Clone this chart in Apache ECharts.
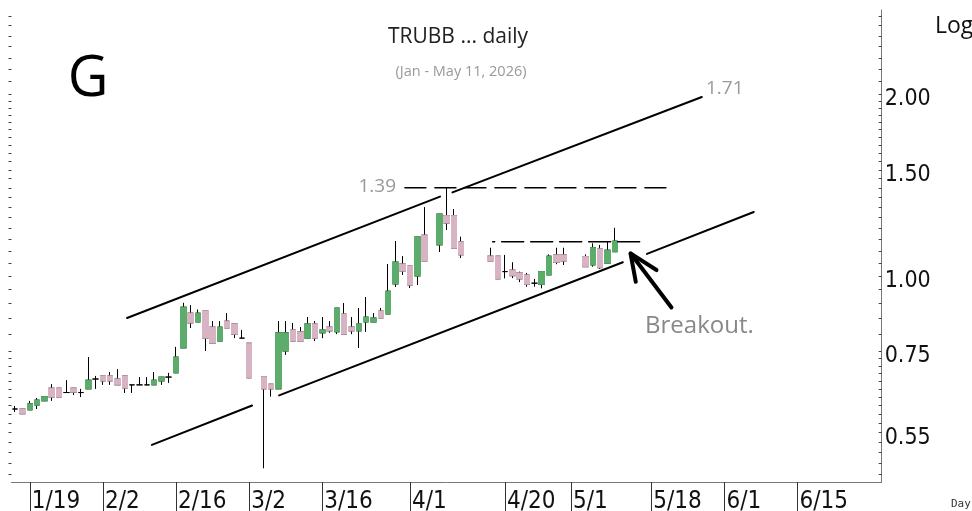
<!DOCTYPE html>
<html>
<head>
<meta charset="utf-8">
<title>TRUBB daily</title>
<script src="https://cdn.jsdelivr.net/npm/echarts@6/dist/echarts.min.js"></script>
<style>
    html, body { margin: 0; padding: 0; background: #fff; }
    #trubbChart { width: 972px; height: 511px; }
</style>
</head>
<body>
<div id="trubbChart"></div>
<script>
    // weekday categories, Jan 15 .. Jun 30 2026
    const dates = [];
    for (let d = new Date(2026, 0, 15); d <= new Date(2026, 5, 30); d.setDate(d.getDate() + 1)) {
        if (d.getDay() !== 0 && d.getDay() !== 6) dates.push((d.getMonth() + 1) + '/' + d.getDate());
    }
    const labelDates = ['1/19', '2/2', '2/16', '3/2', '3/16', '4/1', '4/20', '5/1', '5/18', '6/1', '6/15'];

    // daily prices, one entry per weekday from 1/15 (null = no trade)
    const opens = [0.602, 0.602, 0.600, 0.611, 0.621, 0.652, 0.652, 0.641, 0.652, 0.641,
        0.650, 0.675, 0.683, 0.683, 0.675, 0.683, 0.660, 0.660, 0.660, 0.660,
        0.670, 0.680, 0.691, 0.760, 0.868, 0.839, 0.875, 0.823, 0.780, 0.842,
        0.833, 0.789, 0.774, null, 0.681, 0.662, 0.650, 0.751, 0.814, 0.808,
        0.789, 0.833, 0.805, 0.823, 0.808, 0.865, 0.823, 0.811, 0.839, 0.839,
        0.875, 0.865, 0.970, 1.047, 1.039, 1.000, 1.169, null, 1.126, 1.259,
        1.259, 1.139, null, null, null, 1.079, 1.079, 1.017, 1.023, 1.012,
        1.004, 0.973, 0.969, 1.004, 1.084, 1.084, null, null, 1.077, 1.043,
        1.109, 1.050, 1.097];
    const closes = [0.602, 0.591, 0.614, 0.623, 0.631, 0.630, 0.630, 0.641, 0.642, 0.641,
        0.672, 0.675, 0.670, 0.670, 0.660, 0.652, 0.660, 0.660, 0.660, 0.672,
        0.680, 0.680, 0.734, 0.888, 0.836, 0.868, 0.789, 0.774, 0.823, 0.820,
        0.801, 0.789, 0.678, null, 0.650, 0.650, 0.805, 0.805, 0.780, 0.780,
        0.833, 0.789, 0.814, 0.811, 0.885, 0.801, 0.811, 0.833, 0.855, 0.852,
        0.852, 0.944, 1.055, 1.019, 0.966, 1.161, 1.059, null, 1.267, 1.224,
        1.112, 1.084, null, null, null, 1.059, 0.989, 1.017, 1.001, 0.989,
        0.969, 0.973, 1.017, 1.079, 1.054, 1.059, null, null, 1.036, 1.114,
        1.032, 1.104, 1.143];
    const lows = [0.595, 0.591, 0.600, 0.602, 0.621, 0.621, 0.630, 0.641, 0.635, 0.630,
        0.650, 0.650, 0.660, 0.660, 0.660, 0.640, 0.640, 0.660, 0.660, 0.660,
        0.660, 0.665, 0.691, 0.760, 0.820, 0.839, 0.751, 0.774, 0.780, 0.820,
        0.789, 0.789, 0.678, null, 0.480, 0.631, 0.650, 0.740, 0.780, 0.780,
        0.789, 0.780, 0.789, 0.805, 0.801, 0.801, 0.801, 0.760, 0.808, 0.839,
        0.852, 0.865, 0.959, 1.004, 0.955, 0.966, 1.059, null, 1.096, 1.192,
        1.112, 1.071, null, null, null, 1.059, 0.989, 0.991, 0.992, 0.977,
        0.960, 0.960, 0.954, 1.004, 1.046, 1.043, null, null, 1.036, 1.036,
        1.027, 1.050, 1.097];
    const highs = [0.609, 0.602, 0.621, 0.628, 0.631, 0.662, 0.652, 0.672, 0.652, 0.650,
        0.734, 0.683, 0.683, 0.693, 0.701, 0.683, 0.660, 0.680, 0.680, 0.693,
        0.680, 0.691, 0.763, 0.903, 0.895, 0.880, 0.875, 0.842, 0.842, 0.868,
        0.833, 0.814, 0.774, null, 0.681, 0.662, 0.842, 0.842, 0.836, 0.823,
        0.855, 0.842, 0.855, 0.842, 0.885, 0.902, 0.855, 0.885, 0.923, 0.868,
        0.885, 1.047, 1.143, 1.079, 1.039, 1.161, 1.301, null, 1.267, 1.400,
        1.291, 1.162, null, null, null, 1.114, 1.079, 1.084, 1.054, 1.017,
        1.012, 0.989, 1.017, 1.086, 1.114, 1.114, null, null, 1.086, 1.133,
        1.126, 1.143, 1.202];

    // price scale ticks and labels
    const yTicks = [0.47, 0.49, 0.51, 0.53, 0.55, 0.57, 0.59, 0.61, 0.63, 0.65, 0.67, 0.69, 0.71, 0.73,
        0.75, 0.80, 0.85, 0.90, 0.95, 1.00, 1.05, 1.10, 1.15, 1.20, 1.25, 1.30, 1.35, 1.40, 1.45,
        1.50, 1.55, 1.60, 1.65, 1.70, 1.75, 1.80, 1.85, 1.90, 1.95, 2.00,
        2.10, 2.20, 2.30, 2.40, 2.50, 2.60, 2.70];
    const yLabels = [0.55, 0.75, 1.00, 1.50, 2.00];

    // drawn lines, [trading-day position, price]
    const upperChannelA = [[15.8, 0.852], [58.6, 1.354]];
    const upperChannelB = [[60.3, 1.376], [94.4, 1.980]];
    const lowerChannelOld = [[19.2, 0.525], [32.9, 0.610]];
    const lowerChannelA = [[36.6, 0.634], [83.6, 1.054]];
    const lowerChannelB = [[86.9, 1.088], [101.5, 1.277]];
    const resistanceHigh = [[53.8, 1.40], [89.5, 1.40]];
    const resistanceRange = [[65.8, 1.14], [85.9, 1.14]];
    const arrowShaft = [[90.25, 0.887], [84.65, 1.0905]];
    const arrowHead = [[85.37, 0.978], [84.65, 1.0905], [88.2, 1.023]];

    const narrow = "'Liberation Sans Narrow', 'DejaVu Sans Condensed', 'Liberation Sans', sans-serif";
    const plain = "'Open Sans', 'Noto Sans', sans-serif";

    const wickData = opens.map((o, i) => o === null ? '-' : [o, closes[i], lows[i], highs[i]]);
    const bodyData = opens.map((o, i) => (o === null || o === closes[i]) ? '-'
        : [o, closes[i], Math.min(o, closes[i]), Math.max(o, closes[i])]);

    function segment(data, width, type, offset) {
        return {
            type: 'line',
            xAxisIndex: 1,
            yAxisIndex: 0,
            data: data,
            symbol: 'none',
            silent: true,
            z: 4,
            lineStyle: {color: '#000', width: width, type: type || 'solid', dashOffset: offset || 0, cap: 'round'}
        };
    }

    function label(text, x, y, font, fill, align) {
        return {
            type: 'text',
            x: x,
            y: y,
            silent: true,
            style: {
                text: text,
                font: font,
                fill: fill,
                align: align || 'left',
                textAlign: align || 'left',
                verticalAlign: 'middle',
                textVerticalAlign: 'middle'
            }
        };
    }

    const isLabelDate = (index, value) => labelDates.indexOf(value) >= 0;

    let myChart = echarts.init(document.getElementById('trubbChart'));
    myChart.setOption({
        animation: false,
        backgroundColor: '#fff',
        grid: {left: 11.5, right: 90.3, top: 10, bottom: 29, outerBoundsMode: 'none'},
        xAxis: [{
            type: 'category',
            data: dates,
            boundaryGap: true,
            axisLine: {onZero: false, lineStyle: {color: '#777', width: 1}},
            axisTick: {show: true, alignWithLabel: true, interval: isLabelDate, length: 29, lineStyle: {color: '#333'}},
            axisLabel: {
                interval: isLabelDate,
                align: 'left',
                margin: 8,
                padding: [0, 0, 0, 2],
                fontSize: 24,
                lineHeight: 24,
                fontFamily: narrow,
                color: '#111'
            },
            splitLine: {show: false}
        }, {
            type: 'value',
            min: 0,
            max: dates.length,
            show: false
        }],
        yAxis: [{
            type: 'log',
            position: 'right',
            min: 0.4556,
            max: 2.76,
            axisLine: {show: true, onZero: false, lineStyle: {color: '#777', width: 1}},
            axisTick: {show: true, inside: true, length: 3, customValues: yTicks, lineStyle: {color: '#444'}},
            axisLabel: {
                customValues: yLabels,
                formatter: v => Number(v).toFixed(2),
                margin: 3,
                verticalAlign: 'top',
                lineHeight: 10,
                fontSize: 23,
                fontFamily: narrow,
                color: '#111'
            },
            splitLine: {show: false}
        }, {
            type: 'log',
            position: 'left',
            min: 0.4556,
            max: 2.76,
            axisLine: {show: false, onZero: false},
            axisTick: {show: true, length: 3, customValues: yTicks, lineStyle: {color: '#444'}},
            axisLabel: {show: false},
            splitLine: {show: false}
        }],
        series: [{
            name: 'wicks',
            type: 'candlestick',
            data: wickData,
            barWidth: 6,
            silent: true,
            itemStyle: {
                color: '#000', color0: '#000',
                borderColor: '#000', borderColor0: '#000', borderColorDoji: '#000',
                borderWidth: 1
            }
        }, {
            name: 'bodies',
            type: 'candlestick',
            data: bodyData,
            barWidth: 6,
            silent: true,
            z: 3,
            itemStyle: {
                color: '#5cad6c', color0: '#d7b3c3',
                borderColor: '#5cad6c', borderColor0: '#d7b3c3',
                borderWidth: 1
            }
        },
            segment(upperChannelA, 2),
            segment(upperChannelB, 2),
            segment(lowerChannelOld, 2),
            segment(lowerChannelA, 2),
            segment(lowerChannelB, 2),
            segment(resistanceHigh, 1.5, [21, 9]),
            segment(resistanceRange, 1.5, [22, 7], 20),
            segment(arrowShaft, 4),
            segment(arrowHead, 4)
        ],
        graphic: [
            label('G', 88, 80, '56px ' + plain, '#000', 'center'),
            label('TRUBB ... daily', 458, 37, '21px ' + plain, '#222', 'center'),
            label('(Jan - May 11, 2026)', 461, 72, '14.5px ' + plain, '#999', 'center'),
            label('1.39', 396, 187, '19px ' + plain, '#999', 'right'),
            label('1.71', 706, 89, '19px ' + plain, '#999', 'left'),
            label('Breakout.', 645, 326, '24px ' + plain, '#888', 'left'),
            label('Log', 935, 26, '23px ' + plain, '#111', 'left'),
            label('Day', 951, 504, "11px 'DejaVu Sans Mono', 'Liberation Mono', monospace", '#333', 'left')
        ]
    });
</script>
</body>
</html>
